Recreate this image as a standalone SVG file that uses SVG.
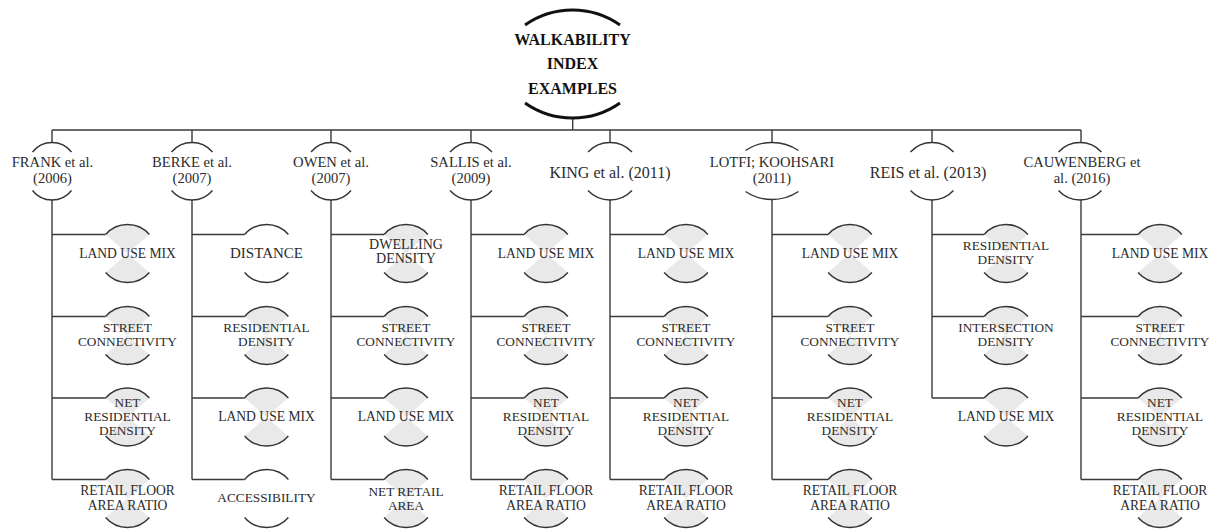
<svg xmlns="http://www.w3.org/2000/svg" xmlns:xlink="http://www.w3.org/1999/xlink" width="1219" height="529" viewBox="0 0 1219 529">
<style>
.ln{fill:none;stroke:#3a3a3a;stroke-width:1.4}
.ar{fill:none;stroke:#333;stroke-width:1.4}
.tar{fill:none;stroke:#111;stroke-width:3}
.sh{fill:#e9e9e9;stroke:none}
text{font-family:"Liberation Serif","Times New Roman",serif;fill:#2b2b2b;text-anchor:middle}
.t{font-size:16px;font-weight:bold;fill:#111}
.h{font-size:14.6px}
.hb{font-size:16px}
.c{font-size:13.3px}
.cl{font-size:13.6px}
.cb{font-size:15px}
.cd{font-size:14px}
</style>
<defs>
<g id="cnf">
<path class="sh" d="M0,19 L-21.9,0 A29 29 0 0 1 21.9,0 Z M0,19 L-21.9,38 A29 29 0 0 0 21.9,38 Z"/>
<path class="ar" d="M-21.9,0 A29 29 0 0 1 21.9,0 M-21.9,38 A29 29 0 0 0 21.9,38"/>
</g>
<g id="cn">
<path class="ar" d="M-21.9,0 A29 29 0 0 1 21.9,0 M-21.9,38 A29 29 0 0 0 21.9,38"/>
</g>
</defs>
<rect width="1219" height="529" fill="#fff"/>

<g id="connectors">
<path class="ln" d="M572.7,118 V130 M52,130 H1081"/>
<path class="ln" d="M52,130 V142.5 M192,130 V142.5 M331,130 V142.5 M471,130 V142.5 M610,130 V142.5 M772,130 V142.5 M932,130 V142.5 M1081,130 V142.5"/>
<path class="ln" d="M52,200 V479.5 M52,234.5 H105.6 M52,316.5 H105.6 M52,398 H105.6 M52,479.5 H105.6"/>
<path class="ln" d="M192,200 V479.5 M192,234.5 H244.6 M192,316.5 H244.6 M192,398 H244.6 M192,479.5 H244.6"/>
<path class="ln" d="M331,200 V479.5 M331,234.5 H384.1 M331,316.5 H384.1 M331,398 H384.1 M331,479.5 H384.1"/>
<path class="ln" d="M471,200 V479.5 M471,234.5 H524.1 M471,316.5 H524.1 M471,398 H524.1 M471,479.5 H524.1"/>
<path class="ln" d="M610,200 V479.5 M610,234.5 H664.1 M610,316.5 H664.1 M610,398 H664.1 M610,479.5 H664.1"/>
<path class="ln" d="M772,199.5 V479.5 M772,234.5 H828.1 M772,316.5 H828.1 M772,398 H828.1 M772,479.5 H828.1"/>
<path class="ln" d="M932,200 V398 M932,234.5 H984.1 M932,316.5 H984.1 M932,398 H984.1"/>
<path class="ln" d="M1081,200 V479.5 M1081,234.5 H1138.1 M1081,316.5 H1138.1 M1081,398 H1138.1 M1081,479.5 H1138.1"/>
</g>

<g id="root">
<path class="tar" d="M525,25 A82.7 82.7 0 0 1 620,25 M525,103 A82.7 82.7 0 0 0 620,103"/>
<text class="t" x="572.5" y="45">WALKABILITY</text>
<text class="t" x="572.5" y="69.3">INDEX</text>
<text class="t" x="572.5" y="93.5">EXAMPLES</text>
</g>

<g id="h-frank">
<path class="ar" d="M32.5,152 A24.76 24.76 0 0 1 71.5,152 M32.5,190.5 A24.76 24.76 0 0 0 71.5,190.5"/>
<text class="h" x="52.5" y="166.7">FRANK et al.</text>
<text class="h" x="52.5" y="183">(2006)</text>
</g>
<g id="h-berke">
<path class="ar" d="M171.5,152 A26.87 26.87 0 0 1 212.5,152 M171.5,190.5 A26.87 26.87 0 0 0 212.5,190.5"/>
<text class="h" x="192" y="166.7">BERKE et al.</text>
<text class="h" x="192" y="183">(2007)</text>
</g>
<g id="h-owen">
<path class="ar" d="M311,152 A25.8 25.8 0 0 1 351,152 M311,190.5 A25.8 25.8 0 0 0 351,190.5"/>
<text class="h" x="331" y="166.7">OWEN et al.</text>
<text class="h" x="331" y="183">(2007)</text>
</g>
<g id="h-sallis">
<path class="ar" d="M450,152 A27.96 27.96 0 0 1 492,152 M450,190.5 A27.96 27.96 0 0 0 492,190.5"/>
<text class="h" x="471" y="166.7">SALLIS et al.</text>
<text class="h" x="471" y="183">(2009)</text>
</g>
<g id="h-king">
<path class="ar" d="M588,152 A30.22 30.22 0 0 1 632,152 M588,190.5 A30.22 30.22 0 0 0 632,190.5"/>
<text class="hb" x="610" y="178">KING et al. (2011)</text>
</g>
<g id="h-lotfi">
<path class="ar" d="M745.5,150.5 A47.9 47.9 0 0 1 798.5,150.5 M745.5,191.5 A47.9 47.9 0 0 0 798.5,191.5"/>
<text class="h" x="772" y="166.7">LOTFI; KOOHSARI</text>
<text class="h" x="772" y="183">(2011)</text>
</g>
<g id="h-reis">
<path class="ar" d="M910.5,152 A29.08 29.08 0 0 1 953.5,152 M910.5,190.5 A29.08 29.08 0 0 0 953.5,190.5"/>
<text class="hb" x="928" y="178">REIS et al. (2013)</text>
</g>
<g id="h-cauwenberg">
<path class="ar" d="M1058.5,152 A29.08 29.08 0 0 1 1101.5,152 M1058.5,190.5 A29.08 29.08 0 0 0 1101.5,190.5"/>
<text class="h" x="1082" y="166.7">CAUWENBERG et</text>
<text class="h" x="1082" y="183">al. (2016)</text>
</g>

<!-- FRANK children -->
<g id="frank-1"><use xlink:href="#cnf" x="127.5" y="234.5"/><text class="cl" x="127.5" y="257.5">LAND USE MIX</text></g>
<g id="frank-2"><use xlink:href="#cnf" x="127.5" y="316.5"/><text class="c" x="127.5" y="331.5">STREET</text><text class="c" x="127.5" y="346">CONNECTIVITY</text></g>
<g id="frank-3"><use xlink:href="#cnf" x="127.5" y="398"/><text class="c" x="127.5" y="406.5">NET</text><text class="c" x="127.5" y="420.7">RESIDENTIAL</text><text class="c" x="127.5" y="434.7">DENSITY</text></g>
<g id="frank-4"><use xlink:href="#cnf" x="127.5" y="479.5"/><text class="cl" x="127.5" y="495.3">RETAIL FLOOR</text><text class="cl" x="127.5" y="509.6">AREA RATIO</text></g>

<!-- BERKE children -->
<g id="berke-1"><use xlink:href="#cn" x="266.5" y="234.5"/><text class="cb" x="266.5" y="257.5">DISTANCE</text></g>
<g id="berke-2"><use xlink:href="#cnf" x="266.5" y="316.5"/><text class="c" x="266.5" y="331.5">RESIDENTIAL</text><text class="c" x="266.5" y="346">DENSITY</text></g>
<g id="berke-3"><use xlink:href="#cnf" x="266.5" y="398"/><text class="cl" x="266.5" y="421">LAND USE MIX</text></g>
<g id="berke-4"><use xlink:href="#cn" x="266.5" y="479.5"/><text class="c" x="266.5" y="502">ACCESSIBILITY</text></g>

<!-- OWEN children -->
<g id="owen-1"><use xlink:href="#cnf" x="406" y="234.5"/><text class="cd" x="406" y="249">DWELLING</text><text class="cd" x="406" y="263">DENSITY</text></g>
<g id="owen-2"><use xlink:href="#cnf" x="406" y="316.5"/><text class="c" x="406" y="331.5">STREET</text><text class="c" x="406" y="346">CONNECTIVITY</text></g>
<g id="owen-3"><use xlink:href="#cnf" x="406" y="398"/><text class="cl" x="406" y="421">LAND USE MIX</text></g>
<g id="owen-4"><use xlink:href="#cnf" x="406" y="479.5"/><text class="c" x="406" y="496">NET RETAIL</text><text class="c" x="406" y="510">AREA</text></g>

<!-- SALLIS children -->
<g id="sallis-1"><use xlink:href="#cnf" x="546" y="234.5"/><text class="cl" x="546" y="257.5">LAND USE MIX</text></g>
<g id="sallis-2"><use xlink:href="#cnf" x="546" y="316.5"/><text class="c" x="546" y="331.5">STREET</text><text class="c" x="546" y="346">CONNECTIVITY</text></g>
<g id="sallis-3"><use xlink:href="#cnf" x="546" y="398"/><text class="c" x="546" y="406.5">NET</text><text class="c" x="546" y="420.7">RESIDENTIAL</text><text class="c" x="546" y="434.7">DENSITY</text></g>
<g id="sallis-4"><use xlink:href="#cnf" x="546" y="479.5"/><text class="cl" x="546" y="495.3">RETAIL FLOOR</text><text class="cl" x="546" y="509.6">AREA RATIO</text></g>

<!-- KING children -->
<g id="king-1"><use xlink:href="#cnf" x="686" y="234.5"/><text class="cl" x="686" y="257.5">LAND USE MIX</text></g>
<g id="king-2"><use xlink:href="#cnf" x="686" y="316.5"/><text class="c" x="686" y="331.5">STREET</text><text class="c" x="686" y="346">CONNECTIVITY</text></g>
<g id="king-3"><use xlink:href="#cnf" x="686" y="398"/><text class="c" x="686" y="406.5">NET</text><text class="c" x="686" y="420.7">RESIDENTIAL</text><text class="c" x="686" y="434.7">DENSITY</text></g>
<g id="king-4"><use xlink:href="#cnf" x="686" y="479.5"/><text class="cl" x="686" y="495.3">RETAIL FLOOR</text><text class="cl" x="686" y="509.6">AREA RATIO</text></g>

<!-- LOTFI children -->
<g id="lotfi-1"><use xlink:href="#cnf" x="850" y="234.5"/><text class="cl" x="850" y="257.5">LAND USE MIX</text></g>
<g id="lotfi-2"><use xlink:href="#cnf" x="850" y="316.5"/><text class="c" x="850" y="331.5">STREET</text><text class="c" x="850" y="346">CONNECTIVITY</text></g>
<g id="lotfi-3"><use xlink:href="#cnf" x="850" y="398"/><text class="c" x="850" y="406.5">NET</text><text class="c" x="850" y="420.7">RESIDENTIAL</text><text class="c" x="850" y="434.7">DENSITY</text></g>
<g id="lotfi-4"><use xlink:href="#cnf" x="850" y="479.5"/><text class="cl" x="850" y="495.3">RETAIL FLOOR</text><text class="cl" x="850" y="509.6">AREA RATIO</text></g>

<!-- REIS children -->
<g id="reis-1"><use xlink:href="#cnf" x="1006" y="234.5"/><text class="c" x="1006" y="249.5">RESIDENTIAL</text><text class="c" x="1006" y="264">DENSITY</text></g>
<g id="reis-2"><use xlink:href="#cnf" x="1006" y="316.5"/><text class="c" x="1006" y="331.5">INTERSECTION</text><text class="c" x="1006" y="346">DENSITY</text></g>
<g id="reis-3"><use xlink:href="#cnf" x="1006" y="398"/><text class="cl" x="1006" y="421">LAND USE MIX</text></g>

<!-- CAUWENBERG children -->
<g id="cauwenberg-1"><use xlink:href="#cnf" x="1160" y="234.5"/><text class="cl" x="1160" y="257.5">LAND USE MIX</text></g>
<g id="cauwenberg-2"><use xlink:href="#cnf" x="1160" y="316.5"/><text class="c" x="1160" y="331.5">STREET</text><text class="c" x="1160" y="346">CONNECTIVITY</text></g>
<g id="cauwenberg-3"><use xlink:href="#cnf" x="1160" y="398"/><text class="c" x="1160" y="406.5">NET</text><text class="c" x="1160" y="420.7">RESIDENTIAL</text><text class="c" x="1160" y="434.7">DENSITY</text></g>
<g id="cauwenberg-4"><use xlink:href="#cnf" x="1160" y="479.5"/><text class="cl" x="1160" y="495.3">RETAIL FLOOR</text><text class="cl" x="1160" y="509.6">AREA RATIO</text></g>
</svg>
